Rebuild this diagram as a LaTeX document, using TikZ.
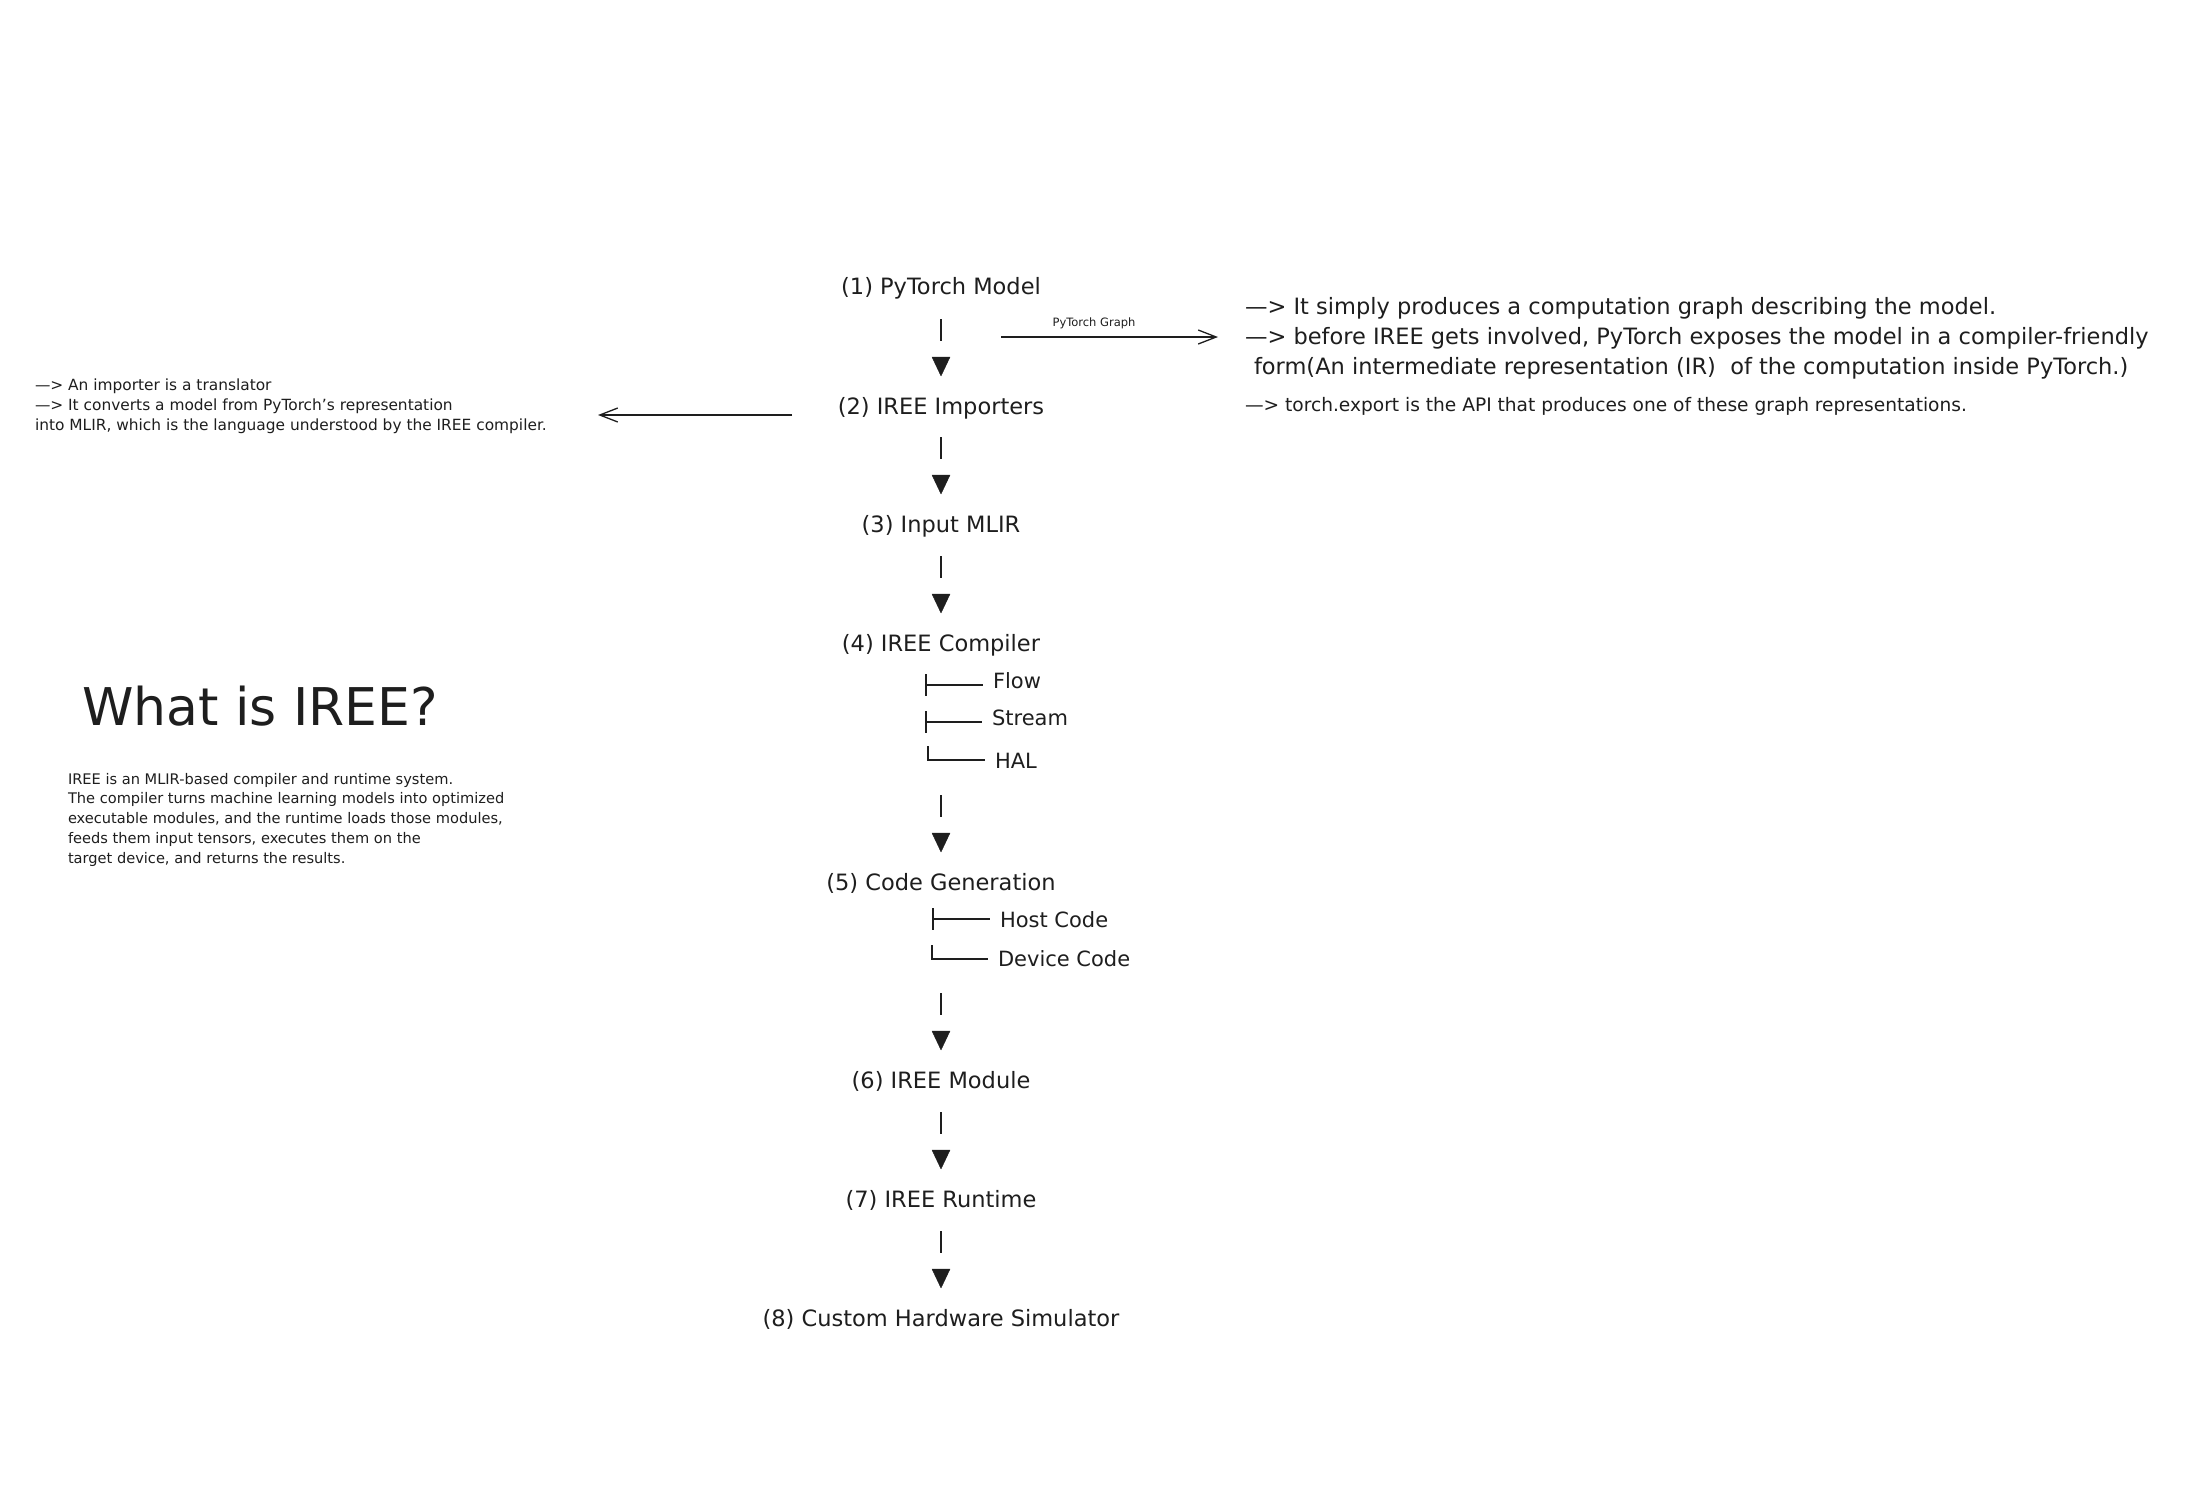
\documentclass[tikz,border=0pt]{standalone}
\usepackage{fontspec}
\setmainfont{DejaVu Sans}
\usetikzlibrary{arrows.meta,calc}
\definecolor{ink}{HTML}{1E1E1E}
\newcommand\downlink[2]{%
  \draw[barline] ([yshift=90pt]#2.center) -- ([yshift=68pt]#2.center);
  \filldraw[headtri] ([shift={(-9pt,52pt)}]#2.center) -- ([shift={(9pt,52pt)}]#2.center) -- ([shift={(0pt,33pt)}]#2.center) -- cycle;}
\begin{document}
\begin{tikzpicture}[x=1pt,y=-1pt,
  every node/.style={inner sep=0pt, outer sep=0pt, text=ink},
  steplbl/.style={font=\fontsize{22.5}{26}\selectfont, text height=17pt, text depth=5.4pt, anchor=center},
  subitem/.style={font=\fontsize{21}{25}\selectfont, anchor=west, text height=16pt, text depth=5pt},
  barline/.style={draw=ink, line width=1.6pt},
  headtri/.style={fill=ink, draw=ink, line width=0.4pt, line join=round},
  treeline/.style={draw=ink, line width=1.4pt},
  notearrow/.style={draw=ink, line width=1.3pt, -{Straight Barb[length=18pt,width=14pt,line width=1.3pt]}},
  note/.style={anchor=north west, align=left}
]
\fill[white] (0,0) rectangle (2208,1500);
\useasboundingbox (0,0) rectangle (2208,1500);

% main pipeline
\node[steplbl] (s1) at (941,289) {(1) PyTorch Model};
\node[steplbl] (s2) at (941,409) {(2) IREE Importers};
\node[steplbl] (s3) at (941,527) {(3) Input MLIR};
\node[steplbl] (s4) at (941,646) {(4) IREE Compiler};
\node[subitem] (flow) at (993,683) {Flow};
\node[subitem] (stream) at (992,720) {Stream};
\node[subitem] (hal) at (995,763) {HAL};
\node[steplbl] (s5) at (941,885) {(5) Code Generation};
\node[subitem] (host) at (1000,922) {Host Code};
\node[subitem] (device) at (998,961) {Device Code};
\node[steplbl] (s6) at (941,1083) {(6) IREE Module};
\node[steplbl] (s7) at (941,1202) {(7) IREE Runtime};
\node[steplbl] (s8) at (941,1321) {(8) Custom Hardware Simulator};

\downlink{s1}{s2}
\downlink{s2}{s3}
\downlink{s3}{s4}
\downlink{s4}{s5}
\downlink{s5}{s6}
\downlink{s6}{s7}
\downlink{s7}{s8}

% compiler tree
\draw[treeline] ([shift={(-67pt,9pt)}]flow.west) -- ([shift={(-67pt,-13pt)}]flow.west);
\draw[treeline] ([shift={(-67pt,-2pt)}]flow.west) -- ([shift={(-10pt,-2pt)}]flow.west);
\draw[treeline] ([shift={(-66pt,9pt)}]stream.west) -- ([shift={(-66pt,-13pt)}]stream.west);
\draw[treeline] ([shift={(-66pt,-2pt)}]stream.west) -- ([shift={(-10pt,-2pt)}]stream.west);
\draw[treeline] ([shift={(-67pt,17pt)}]hal.west) |- ([shift={(-10pt,3pt)}]hal.west);
% codegen tree
\draw[treeline] ([shift={(-67pt,14pt)}]host.west) -- ([shift={(-67pt,-8pt)}]host.west);
\draw[treeline] ([shift={(-67pt,3pt)}]host.west) -- ([shift={(-10pt,3pt)}]host.west);
\draw[treeline] ([shift={(-66pt,16pt)}]device.west) |- ([shift={(-10pt,2pt)}]device.west);

% PyTorch graph arrow
\coordinate (gstart) at (1001,337);
\coordinate (gend) at (1218,337);
\draw[notearrow] (gstart) -- (gend);
\node[font=\fontsize{11.5}{14}\selectfont] (glabel) at (1094,323) {PyTorch Graph};

% importer arrow
\coordinate (lstart) at (792,415);
\coordinate (lend) at (598,415);
\draw[notearrow] (lstart) -- (lend);

% left note
\node[note, font=\fontsize{15.4}{20}\selectfont] (imptxt) at (35,379)
 {—> An importer is a translator\\—> It converts a model from PyTorch's representation\\into MLIR, which is the language understood by the IREE compiler.};

% right note
\node[note, font=\fontsize{22.5}{30}\selectfont] (ptxt) at (1245,297)
 {—> It simply produces a computation graph describing the model.\\—> before IREE gets involved, PyTorch exposes the model in a compiler-friendly\\\hspace*{0.4em}form(An intermediate representation (IR)\ \ of the computation inside PyTorch.)};
\node[anchor=west, font=\fontsize{18.6}{22}\selectfont] (exptxt) at (1245,406)
 {—> torch.export is the API that produces one of these graph representations.};

% What is IREE
\node[font=\fontsize{52}{60}\selectfont] (title) at (260,706) {What is IREE?};
\node[note, font=\fontsize{14.6}{19.8}\selectfont] (body) at (68,773)
 {IREE is an MLIR-based compiler and runtime system.\\The compiler turns machine learning models into optimized\\executable modules, and the runtime loads those modules,\\feeds them input tensors, executes them on the\\target device, and returns the results.};
\end{tikzpicture}
\end{document}
